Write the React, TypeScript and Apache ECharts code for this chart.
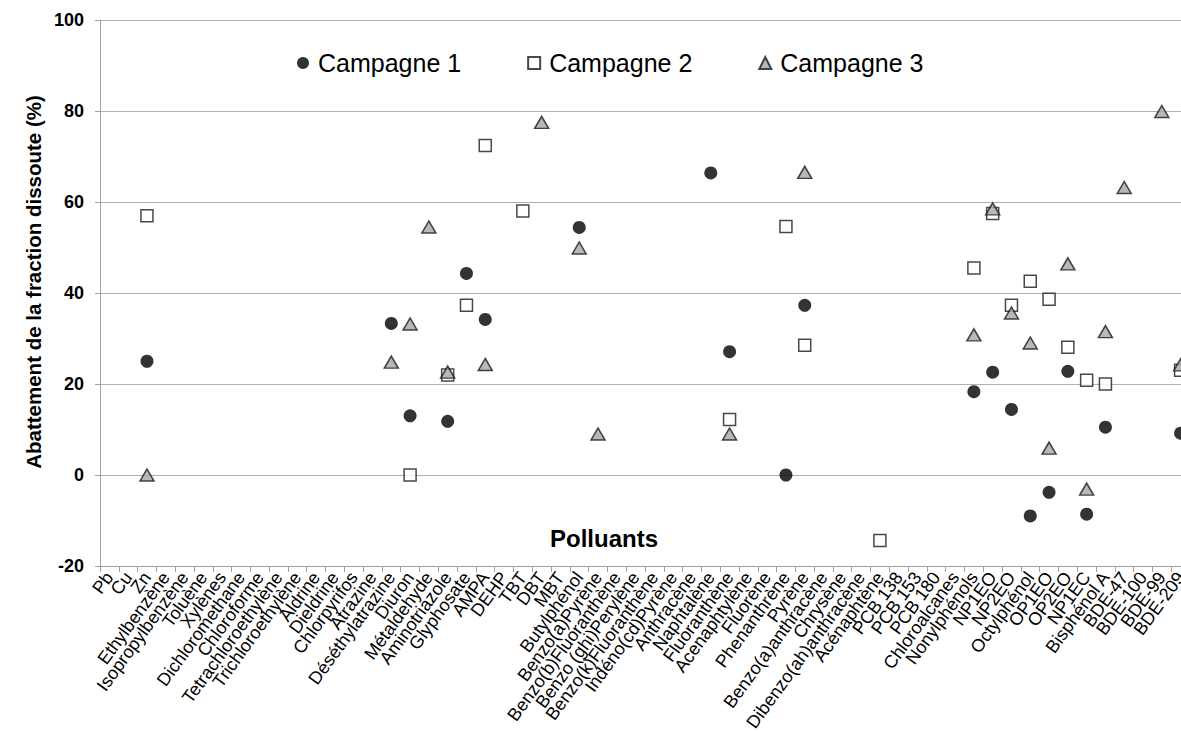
import React, { useEffect, useRef } from "react";
import * as echarts from "echarts";

const categories: string[] = [
  "Pb", "Cu", "Zn", "Ethylbenzène", "Isopropylbenzène", "Toluène", "Xylènes",
  "Dichloromethane", "Chloroforme", "Tetrachloroethylène", "Trichloroethylène",
  "Aldrine", "Dieldrine", "Chlorpyrifos", "Atrazine", "Déséthylatrazine", "Diuron",
  "Métaldehyde", "Aminotriazole", "Glyphosate", "AMPA", "DEHP", "TBT", "DBT", "MBT",
  "Butylphénol", "Benzo(a)Pyrène", "Benzo(b)Fluoranthène", "Benzo (ghi)Perylène",
  "Benzo(k)Fluoranthène", "Indéno(cd)Pyrène", "Anthracène", "Naphtalène",
  "Fluoranthène", "Acenaphtylène", "Fluorène", "Phenanthrène", "Pyrène",
  "Benzo(a)anthracène", "Chrysène", "Dibenzo(ah)anthracène", "Acénaphtène",
  "PCB 138", "PCB 153", "PCB 180", "Chloroalcanes", "Nonylphénols", "NP1EO", "NP2EO",
  "Octylphénol", "OP1EO", "OP2EO", "NP1EC", "Bisphénol A", "BDE-47", "BDE-100",
  "BDE-99", "BDE-209",
];

const campagne1: [string, number][] = [
  ["Zn", 25], ["Déséthylatrazine", 33.3], ["Diuron", 13], ["Aminotriazole", 11.8],
  ["Glyphosate", 44.3], ["AMPA", 34.2], ["Butylphénol", 54.4], ["Naphtalène", 66.4],
  ["Fluoranthène", 27.1], ["Phenanthrène", 0], ["Pyrène", 37.3], ["Nonylphénols", 18.3],
  ["NP1EO", 22.6], ["NP2EO", 14.4], ["Octylphénol", -9], ["OP1EO", -3.8],
  ["OP2EO", 22.8], ["NP1EC", -8.6], ["Bisphénol A", 10.5], ["BDE-209", 9.2],
];

const campagne2: [string, number][] = [
  ["Zn", 57], ["Diuron", 0], ["Aminotriazole", 22], ["Glyphosate", 37.3], ["AMPA", 72.4],
  ["TBT", 58], ["Fluoranthène", 12.2], ["Phenanthrène", 54.6], ["Pyrène", 28.5],
  ["Acénaphtène", -14.4], ["Nonylphénols", 45.5], ["NP1EO", 57.5], ["NP2EO", 37.3],
  ["Octylphénol", 42.6], ["OP1EO", 38.6], ["OP2EO", 28.1], ["NP1EC", 20.8],
  ["Bisphénol A", 20], ["BDE-209", 23],
];

const campagne3: [string, number][] = [
  ["Zn", 0], ["Déséthylatrazine", 24.8], ["Diuron", 33.2], ["Métaldehyde", 54.5],
  ["Aminotriazole", 22.6], ["AMPA", 24.3], ["DBT", 77.5], ["Butylphénol", 49.9],
  ["Benzo(a)Pyrène", 9], ["Fluoranthène", 9], ["Pyrène", 66.5], ["Nonylphénols", 30.8],
  ["NP1EO", 58.5], ["NP2EO", 35.6], ["Octylphénol", 29], ["OP1EO", 5.9], ["OP2EO", 46.4],
  ["NP1EC", -3.1], ["Bisphénol A", 31.5], ["BDE-47", 63.2], ["BDE-99", 79.9],
  ["BDE-209", 24.2],
];

const seriesNames = ["Campagne 1", "Campagne 2", "Campagne 3"];
const yTitle = "Abattement de la fraction dissoute (%)";
const xTitle = "Polluants";

const FONT = "'Liberation Sans', Arial, sans-serif";

export default function App() {
  const ref = useRef<HTMLDivElement>(null);

  useEffect(() => {
    if (!ref.current) return;
    const chart = echarts.init(ref.current, null, { renderer: "svg" });
    chart.setOption({
      animation: false,
      backgroundColor: "#ffffff",
      textStyle: { fontFamily: FONT },
      grid: {
        left: 100,
        right: 0,
        top: 20,
        bottom: 165,
        containLabel: false,
        outerBoundsMode: "none",
      },
      legend: {
        left: 292,
        top: 43,
        itemWidth: 12,
        itemHeight: 12,
        itemGap: 66,
        textStyle: {
          fontFamily: FONT,
          fontSize: 25,
          color: "#000",
          padding: [0, 0, 0, 4],
          lineHeight: 30,
        },
        data: seriesNames,
      },
      xAxis: {
        type: "category",
        data: categories,
        boundaryGap: true,
        axisLine: { onZero: false, lineStyle: { color: "#a0a0a0", width: 1 } },
        axisTick: { show: true, interval: 0, length: 6, lineStyle: { color: "#a0a0a0" } },
        axisLabel: {
          interval: 0,
          rotate: 54,
          fontSize: 18,
          color: "#000",
          margin: 8,
          fontFamily: FONT,
          hideOverlap: false,
        },
        splitLine: { show: false },
      },
      yAxis: {
        type: "value",
        min: -20,
        max: 100,
        interval: 20,
        axisLine: { show: true, lineStyle: { color: "#a0a0a0", width: 1 } },
        axisTick: { show: true, length: 5, lineStyle: { color: "#a0a0a0" } },
        axisLabel: { fontSize: 18, fontWeight: "bold", color: "#000", margin: 16, fontFamily: FONT },
        splitLine: { show: true, lineStyle: { color: "#b0b0b0", width: 1 } },
      },
      graphic: [
        {
          type: "text",
          x: 604,
          y: 538,
          style: {
            text: xTitle,
            fontSize: 24,
            fontWeight: "bold",
            fontFamily: FONT,
            fill: "#000",
            textAlign: "center",
            textVerticalAlign: "middle",
          },
        },
        {
          type: "text",
          x: 33,
          y: 282,
          rotation: Math.PI / 2,
          style: {
            text: yTitle,
            fontSize: 20.5,
            fontWeight: "bold",
            fontFamily: FONT,
            fill: "#000",
            textAlign: "center",
            textVerticalAlign: "middle",
          },
        },
      ],
      series: [
        {
          name: seriesNames[0],
          type: "scatter",
          symbol: "circle",
          symbolSize: 13,
          itemStyle: { color: "#000000" },
          data: campagne1,
          z: 3,
        },
        {
          name: seriesNames[1],
          type: "scatter",
          symbol: "rect",
          symbolSize: 12,
          itemStyle: { color: "#ffffff", borderColor: "#1a1a1a", borderWidth: 1.5 },
          data: campagne2,
          z: 4,
        },
        {
          name: seriesNames[2],
          type: "scatter",
          symbol: "triangle",
          symbolSize: [14, 12],
          itemStyle: { color: "#a6a6a6", borderColor: "#1a1a1a", borderWidth: 1.5 },
          data: campagne3,
          z: 5,
        },
      ],
    });
    return () => chart.dispose();
  }, []);

  return (
    <div style={{ position: "absolute", left: 0, top: 0, width: 1181, height: 731, overflow: "hidden" }}>
      <div ref={ref} style={{ position: "absolute", left: 0, top: 0, width: 1190, height: 731 }} />
    </div>
  );
}
